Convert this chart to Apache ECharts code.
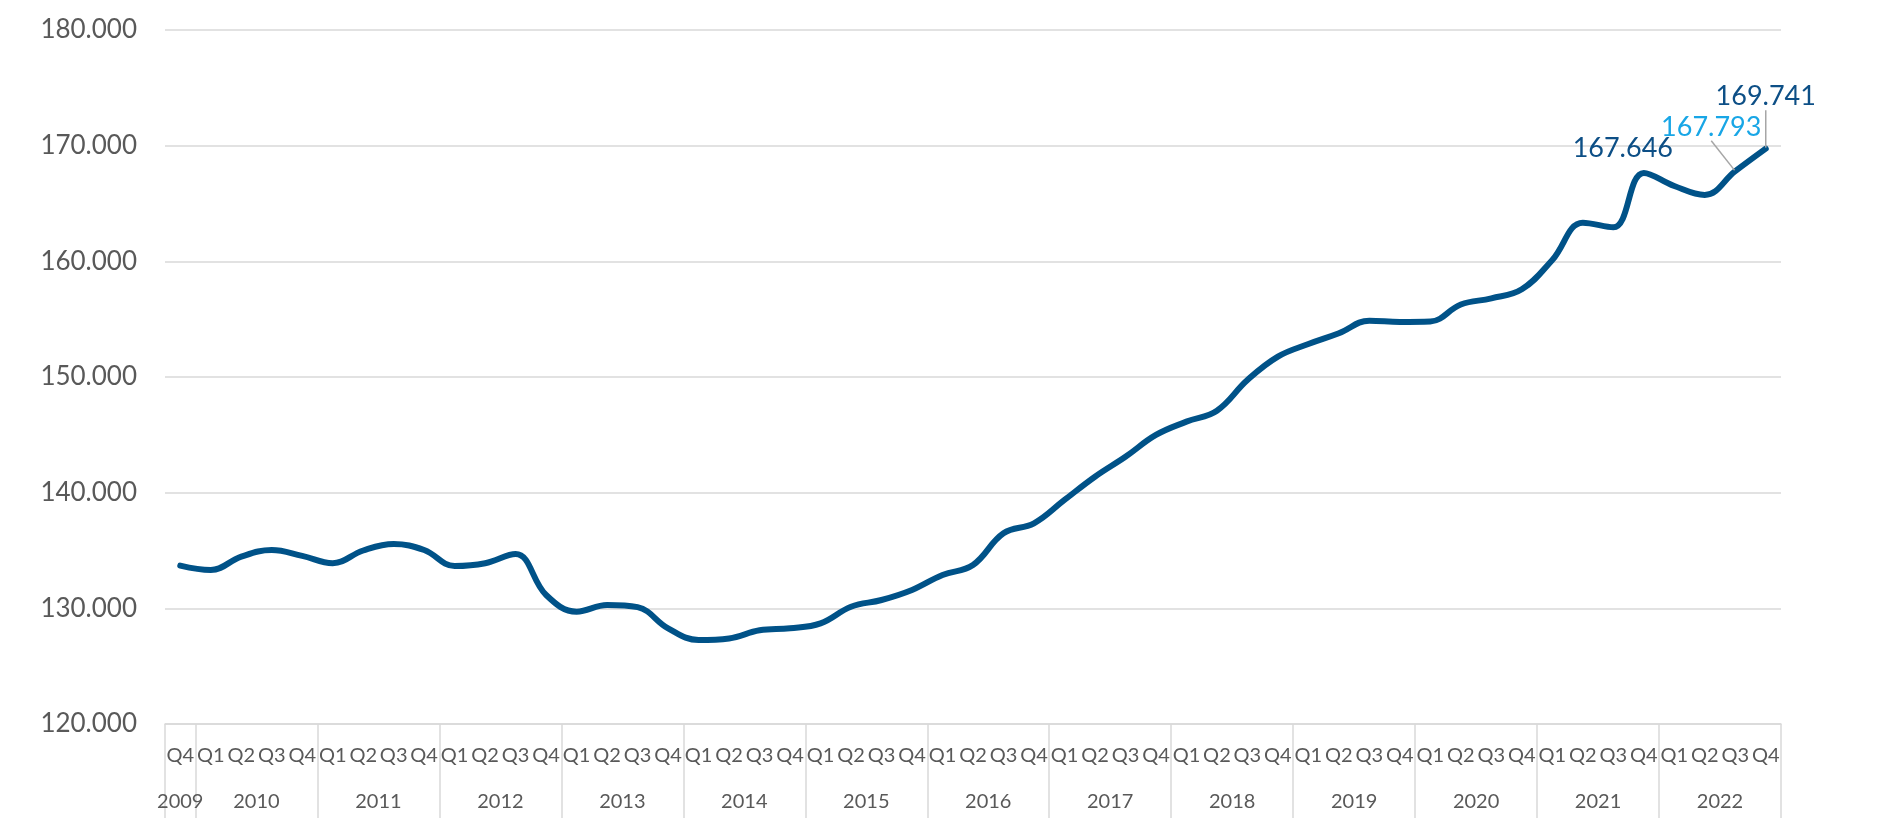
<!DOCTYPE html>
<html>
<head>
<meta charset="utf-8">
<title>Line chart 2009-2022</title>
<script src="https://cdn.jsdelivr.net/npm/echarts@6/dist/echarts.min.js"></script>
<style>
    html, body { margin: 0; padding: 0; background: #fff; }
    #chart { width: 1880px; height: 840px; }
</style>
</head>
<body>
<div id="chart"></div>
<script>
// quarter labels, one per point (2009 Q4 .. 2022 Q4)
const quarters = [
    'Q4',
    'Q1', 'Q2', 'Q3', 'Q4', 'Q1', 'Q2', 'Q3', 'Q4', 'Q1', 'Q2', 'Q3', 'Q4',
    'Q1', 'Q2', 'Q3', 'Q4', 'Q1', 'Q2', 'Q3', 'Q4', 'Q1', 'Q2', 'Q3', 'Q4',
    'Q1', 'Q2', 'Q3', 'Q4', 'Q1', 'Q2', 'Q3', 'Q4', 'Q1', 'Q2', 'Q3', 'Q4',
    'Q1', 'Q2', 'Q3', 'Q4', 'Q1', 'Q2', 'Q3', 'Q4', 'Q1', 'Q2', 'Q3', 'Q4',
    'Q1', 'Q2', 'Q3', 'Q4'
]
const years = ['2009', '2010', '2011', '2012', '2013', '2014', '2015',
    '2016', '2017', '2018', '2019', '2020', '2021', '2022']

const values = [
    133690,
    133310, 134470, 135040, 134530,
    133900, 135000, 135560, 135040,
    133660, 133900, 134700, 131150,
    129710, 130290, 130100, 128270,
    127260, 127400, 128100, 128270,
    128700, 130140, 130720, 131590,
    132880, 133750, 136490, 137350,
    139370, 141380, 143100, 144990,
    146140, 147090, 149740, 151760,
    152850, 153780, 154870, 154760,
    154800, 156270, 156800, 157580,
    160120, 163340, 162940, 167646,
    166510, 165740, 167793, 169741
]

// y axis ticks
const yMin = 120000
const yMax = 180000
const yStep = 10000

// labelled points: index -> [colour, dx, dy, leader line]
const callouts = {
    48: ['#0d4f86', -21, -25, false],
    51: ['#18a6e6', -24, -44, true],
    52: ['#0d4f86', 0, -52, true]
}

const fmt = v => String(Math.round(v)).replace(/\B(?=(\d{3})+(?!\d))/g, '.')

// where each year starts (index 0 and every Q1), and the middle of each year block
const yearStarts = []
quarters.forEach((q, i) => { if (i === 0 || q === 'Q1') yearStarts.push(i) })
const yearCenters = yearStarts.map((s, k) => (s + (k + 1 < yearStarts.length ? yearStarts[k + 1] : quarters.length)) / 2)

const grey = '#d9d9d9'
const textGrey = '#595959'
const font = 'Lato'

const seriesData = values.map((v, i) => {
    const c = callouts[i]
    if (!c) return v
    return {
        value: v,
        label: { show: true, color: c[0] },
        labelLine: { show: c[3] }
    }
})

const chart = echarts.init(document.getElementById('chart'))
chart.setOption({
    animation: false,
    textStyle: { fontFamily: font },
    grid: {
        left: 165,
        right: 99,
        top: 30,
        bottom: 116,
        containLabel: false,
        outerBoundsMode: 'none'
    },
    xAxis: [{
        type: 'category',
        position: 'bottom',
        data: quarters,
        boundaryGap: true,
        axisLine: { lineStyle: { color: grey, width: 1.5 } },
        axisTick: {
            show: true,
            interval: i => yearStarts.indexOf(i) >= 0,
            length: 94,
            lineStyle: { color: grey, width: 1.5 }
        },
        axisLabel: {
            interval: 0,
            margin: 22,
            fontSize: 20,
            color: textGrey,
            fontFamily: font
        },
        splitLine: { show: false }
    }, {
        type: 'value',
        position: 'bottom',
        offset: 0,
        min: 0,
        max: quarters.length,
        axisLine: { show: false },
        axisTick: { show: false },
        splitLine: { show: false },
        axisLabel: {
            customValues: yearCenters,
            margin: 68,
            fontSize: 20,
            color: textGrey,
            fontFamily: font,
            formatter: v => years[yearCenters.indexOf(v)] || ''
        }
    }],
    yAxis: {
        type: 'value',
        min: yMin,
        max: yMax,
        interval: yStep,
        axisLine: { show: false },
        axisTick: { show: false },
        splitLine: { lineStyle: { color: grey, width: 1.5 } },
        axisLabel: {
            margin: 28,
            fontSize: 26,
            color: textGrey,
            fontFamily: font,
            formatter: v => fmt(v)
        }
    },
    series: [{
        type: 'line',
        xAxisIndex: 0,
        data: seriesData,
        smooth: 0.4,
        showSymbol: true,
        showAllSymbol: true,
        symbol: 'circle',
        symbolSize: 2,
        itemStyle: { color: '#005288' },
        lineStyle: { color: '#005288', width: 6, cap: 'round' },
        label: {
            show: false,
            fontSize: 27,
            fontFamily: font,
            formatter: p => fmt(p.value)
        },
        labelLine: {
            show: false,
            lineStyle: { color: '#a6a6a6', width: 1.5 }
        },
        labelLayout: p => {
            const c = callouts[p.dataIndex]
            if (!c) return {}
            return {
                x: p.rect.x + p.rect.width / 2 + c[1],
                y: p.rect.y + p.rect.height / 2 + c[2],
                align: 'center',
                verticalAlign: 'middle'
            }
        },
        emphasis: { disabled: true }
    }]
})
</script>
</body>
</html>
